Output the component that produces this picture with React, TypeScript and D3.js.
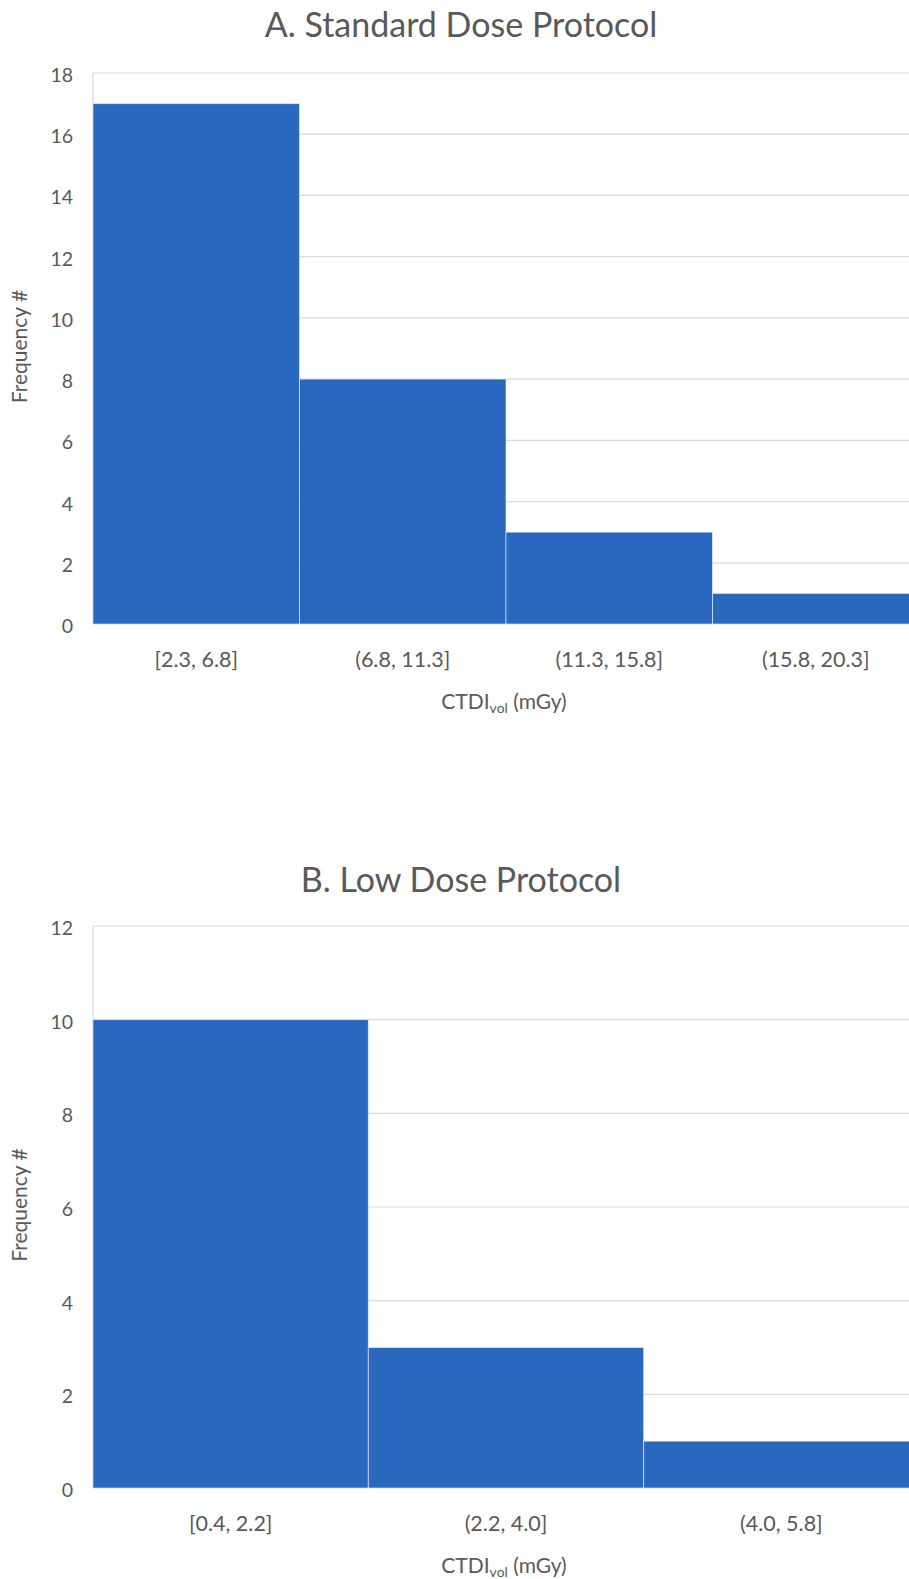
import React from 'react';
import * as d3 from 'd3';

const binsA = ['[2.3, 6.8]', '(6.8, 11.3]', '(11.3, 15.8]', '(15.8, 20.3]'];
const countsA = [17, 8, 3, 1];
const ticksA = [0, 2, 4, 6, 8, 10, 12, 14, 16, 18];

const binsB = ['[0.4, 2.2]', '(2.2, 4.0]', '(4.0, 5.8]'];
const countsB = [10, 3, 1];
const ticksB = [0, 2, 4, 6, 8, 10, 12];

const FONT = 'Lato, "Open Sans", sans-serif';
const TEXT = '#595959';
const BAR = '#2A67BE';
const GRID = '#D9D9D9';

interface HistProps {
  title: string;
  bins: string[];
  counts: number[];
  ticks: number[];
  titleY: number;
  top: number;
  bottom: number;
}

function Histogram({ title, bins, counts, ticks, titleY, top, bottom }: HistProps) {
  const left = 93;
  const right = 919; // plot runs past the cropped right edge

  const x = d3.scaleBand<string>().domain(bins).range([left, right]).padding(0);
  const y = d3.scaleLinear().domain([0, d3.max(ticks) as number]).range([bottom, top]);

  return (
    <g fontFamily={FONT} fill={TEXT}>
      <text x={461} y={titleY} textAnchor="middle" fontSize={34}>{title}</text>

      {/* gridlines */}
      {ticks.map(t => (
        <line key={t} x1={left} x2={right} y1={y(t)} y2={y(t)} stroke={GRID} strokeWidth={1.2} />
      ))}
      <line x1={left} x2={left} y1={top} y2={bottom} stroke={GRID} strokeWidth={1.2} />

      {/* bars */}
      {bins.map((b, i) => (
        <rect
          key={b}
          x={x(b)}
          y={y(counts[i])}
          width={x.bandwidth()}
          height={bottom - y(counts[i])}
          fill={BAR}
          stroke="#ffffff"
          strokeOpacity={0.55}
          strokeWidth={1}
        />
      ))}

      {/* y tick labels */}
      {ticks.map(t => (
        <text key={t} x={73} y={y(t) + 2} dy="0.36em" textAnchor="end" fontSize={19.5}>{t}</text>
      ))}

      {/* category labels */}
      {bins.map(b => (
        <text key={b} x={(x(b) as number) + x.bandwidth() / 2} y={bottom + 43} textAnchor="middle" fontSize={21.5}>{b}</text>
      ))}

      <text x={504} y={bottom + 85} textAnchor="middle" fontSize={21}>
        CTDI<tspan fontSize={14} dy={4}>vol</tspan><tspan dy={-4}> (mGy)</tspan>
      </text>

      <text
        transform={`translate(27,${(top + bottom) / 2 - 2}) rotate(-90)`}
        textAnchor="middle"
        fontSize={21}
      >
        Frequency #
      </text>
    </g>
  );
}

export default function App() {
  return (
    <svg
      width={909}
      height={1579}
      style={{ position: 'absolute', left: 0, top: 0, background: '#fff' }}
    >
      <Histogram
        title="A. Standard Dose Protocol"
        bins={binsA}
        counts={countsA}
        ticks={ticksA}
        titleY={37}
        top={73}
        bottom={624}
      />
      <Histogram
        title="B. Low Dose Protocol"
        bins={binsB}
        counts={countsB}
        ticks={ticksB}
        titleY={892}
        top={926}
        bottom={1488}
      />
    </svg>
  );
}
